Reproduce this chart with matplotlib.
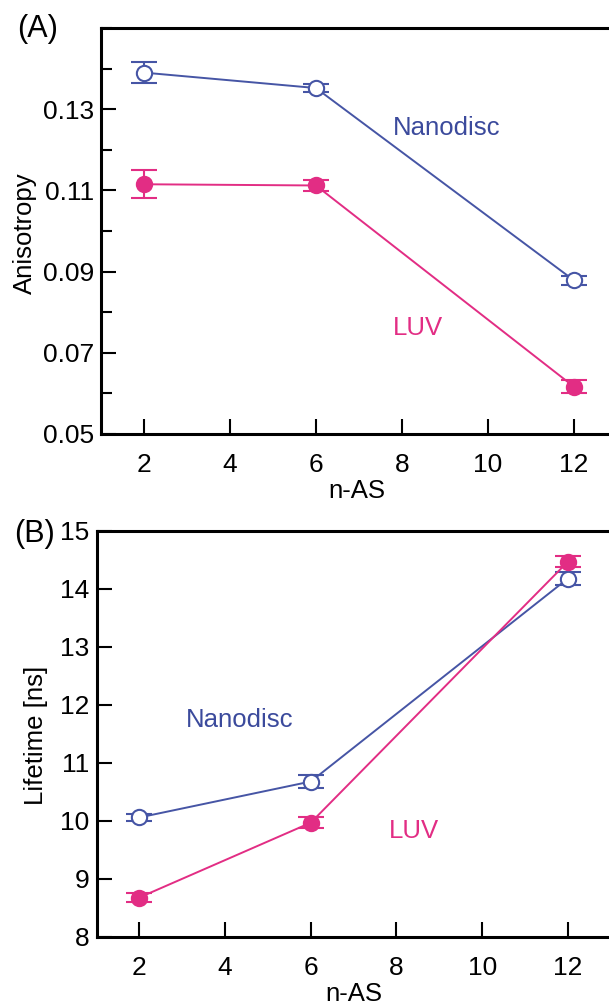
import matplotlib
matplotlib.use("Agg")
import matplotlib.pyplot as plt
from matplotlib.ticker import MultipleLocator

plt.rcParams['font.family'] = ['Liberation Sans', 'DejaVu Sans']

# Data
n_as = [2, 6, 12]
aniso_nano = [0.1390, 0.1352, 0.0878]
aniso_nano_err = [0.0026, 0.0010, 0.0010]
aniso_luv = [0.1115, 0.1112, 0.0616]
aniso_luv_err = [0.0035, 0.0014, 0.0016]

life_nano = [10.06, 10.68, 14.18]
life_nano_err = [0.06, 0.11, 0.11]
life_luv = [8.68, 9.97, 14.47]
life_luv_err = [0.07, 0.10, 0.09]

x_ticks = [2, 4, 6, 8, 10, 12]
aniso_ticks = [0.05, 0.07, 0.09, 0.11, 0.13]
life_ticks = [8, 9, 10, 11, 12, 13, 14, 15]

BLUE = '#4655a5'
BLUE_TXT = '#3b4a9c'
PINK = '#e22d84'

fig = plt.figure(figsize=(6.09, 10.05), dpi=100)
ax1 = fig.add_axes([0.1654, 0.5682, 0.848, 0.4040])
ax2 = fig.add_axes([0.1585, 0.0677, 0.8443, 0.4040])


def style(ax):
    for s in ['left', 'bottom', 'top', 'right']:
        ax.spines[s].set_linewidth(2.2)
        ax.spines[s].set_color('black')
    ax.tick_params(axis='both', which='major', direction='in', length=11,
                   width=1.5, labelsize=19, top=False, right=False)
    ax.tick_params(axis='y', which='major', pad=5)
    ax.tick_params(axis='x', which='major', pad=14)
    ax.tick_params(axis='y', which='minor', direction='in', length=8, width=1.5,
                   right=False)
    ax.set_xlim(1, 13)
    ax.set_xticks(x_ticks)
    ax.set_xticklabels([str(t) for t in x_ticks])


def series(ax, y, err, color, filled):
    ax.errorbar(n_as, y, yerr=err, color=color, lw=1.4, elinewidth=1.5,
                capsize=9.5, capthick=1.5, marker='o', ms=11,
                mfc=color if filled else 'white', mec=color, mew=1.5,
                zorder=3)


# Panel A
style(ax1)
series(ax1, aniso_nano, aniso_nano_err, BLUE, False)
series(ax1, aniso_luv, aniso_luv_err, PINK, True)
ax1.set_ylim(0.05, 0.15)
ax1.set_yticks(aniso_ticks)
ax1.set_yticklabels([f"{t:.2f}" for t in aniso_ticks])
ax1.yaxis.set_minor_locator(MultipleLocator(0.01))
ax1.text(9.03, 0.1254, 'Nanodisc', color=BLUE_TXT, fontsize=18.5,
         ha='center', va='center')
ax1.text(8.37, 0.0761, 'LUV', color=PINK, fontsize=18.5,
         ha='center', va='center')

# Panel B
style(ax2)
series(ax2, life_nano, life_nano_err, BLUE, False)
series(ax2, life_luv, life_luv_err, PINK, True)
ax2.set_ylim(8, 15)
ax2.set_yticks(life_ticks)
ax2.set_yticklabels([str(t) for t in life_ticks])
ax2.text(4.35, 11.74, 'Nanodisc', color=BLUE_TXT, fontsize=18.5,
         ha='center', va='center')
ax2.text(8.41, 9.83, 'LUV', color=PINK, fontsize=18.5,
         ha='center', va='center')

# Labels
fig.text(25 / 609, 1 - 233 / 1005, 'Anisotropy', rotation=90, fontsize=18.5,
         ha='center', va='center')
fig.text(36 / 609, 1 - 735 / 1005, 'Lifetime [ns]', rotation=90, fontsize=18.5,
         ha='center', va='center')
fig.text(357 / 609, 1 - 491 / 1005, 'n-AS', fontsize=18.5, ha='center', va='center')
fig.text(354 / 609, 1 - 994 / 1005, 'n-AS', fontsize=18.5, ha='center', va='center')
fig.text(17 / 609, 1 - 29 / 1005, '(A)', fontsize=22, ha='left', va='center')
fig.text(14 / 609, 1 - 534 / 1005, '(B)', fontsize=22, ha='left', va='center')

fig.savefig('out.png', dpi=100)
